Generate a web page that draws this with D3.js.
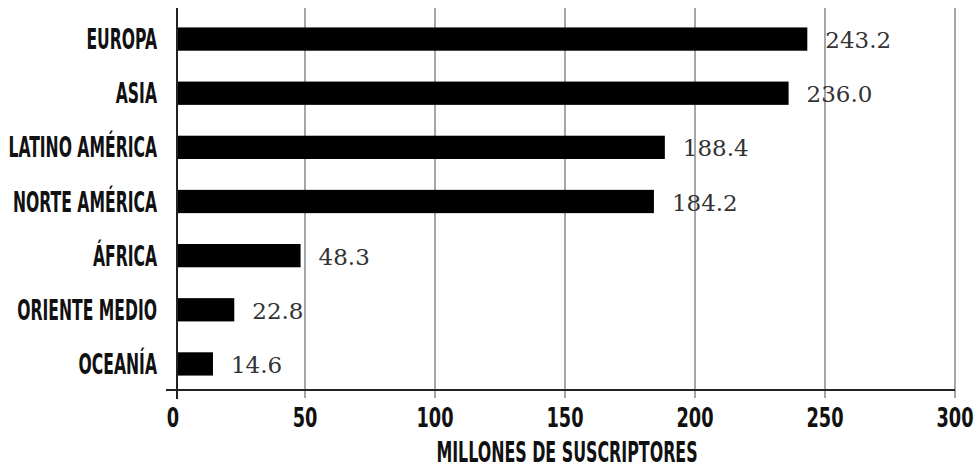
<!DOCTYPE html>
<html><head><meta charset="utf-8">
<script src="https://cdn.jsdelivr.net/npm/d3@7"></script>
<style>
html,body{margin:0;padding:0;background:#fff;}
svg{display:block;}
</style></head>
<body>
<svg id="chart" width="976" height="468"></svg>
<script>
const categories = ["EUROPA","ASIA","LATINO AMÉRICA","NORTE AMÉRICA","ÁFRICA","ORIENTE MEDIO","OCEANÍA"];
const values = [243.2, 236.0, 188.4, 184.2, 48.3, 22.8, 14.6];
const valueLabels = ["243.2","236.0","188.4","184.2","48.3","22.8","14.6"];
const tickValues = [0,50,100,150,200,250,300];
const axisTitle = "MILLONES DE SUSCRIPTORES";

const svg = d3.select("#chart");
const condensed = "'Liberation Sans Narrow','DejaVu Sans Condensed','Arial Narrow',sans-serif";
const serif = "'DejaVu Serif','Liberation Serif',serif";

const x = d3.scaleLinear().domain([0,300]).range([175,955]);
const y = d3.scaleBand().domain(categories).range([12,391]).paddingInner(0.57).paddingOuter(0.285);
const axisY = 390;

// gridlines + ticks
svg.append("g").selectAll("line.grid").data(tickValues.filter(d=>d>0)).join("line")
  .attr("x1",d=>x(d)).attr("x2",d=>x(d)).attr("y1",8).attr("y2",398)
  .attr("stroke","#a3a7ab").attr("stroke-width",2);

// bars
svg.append("g").selectAll("rect").data(values).join("rect")
  .attr("x",x(0)+1).attr("y",(d,i)=>y(categories[i]))
  .attr("width",d=>x(d)-x(0)-1).attr("height",y.bandwidth())
  .attr("fill","#000");

// y axis line
svg.append("line").attr("x1",x(0)+2).attr("x2",x(0)+2).attr("y1",8).attr("y2",399)
  .attr("stroke","#222").attr("stroke-width",2);
// x axis line
svg.append("line").attr("x1",166).attr("x2",x(300)).attr("y1",axisY).attr("y2",axisY)
  .attr("stroke","#222").attr("stroke-width",2);

// category labels
svg.append("g").selectAll("text").data(categories).join("text")
  .attr("transform",d=>`translate(157,${y(d)+y.bandwidth()/2+10}) scale(0.62,1)`)
  .attr("text-anchor","end")
  .attr("font-family",condensed).attr("font-weight","bold").attr("font-size",28)
  .attr("fill","#111")
  .text(d=>d);

// value labels
svg.append("g").selectAll("text").data(values).join("text")
  .attr("x",d=>x(d)+18).attr("y",(d,i)=>y(categories[i])+y.bandwidth()/2+9)
  .attr("font-family",serif).attr("font-size",23).attr("fill","#333")
  .text((d,i)=>valueLabels[i]);

// tick labels
svg.append("g").selectAll("text").data(tickValues).join("text")
  .attr("transform",d=>`translate(${x(d)+(d===0?-2:0)},427) scale(0.76,1)`)
  .attr("text-anchor","middle")
  .attr("font-family",condensed).attr("font-weight","bold").attr("font-size",26)
  .attr("fill","#111")
  .text(d=>d);

// axis title
svg.append("text")
  .attr("transform",`translate(567,462) scale(0.63,1)`)
  .attr("text-anchor","middle")
  .attr("font-family",condensed).attr("font-weight","bold").attr("font-size",28)
  .attr("fill","#111")
  .text(axisTitle);
</script>
</body></html>
